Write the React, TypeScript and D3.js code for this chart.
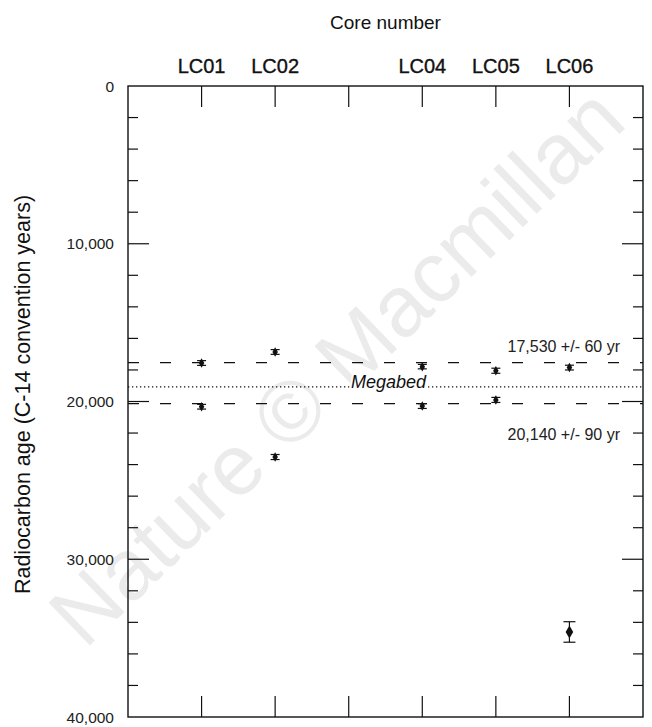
import React from 'react'
import * as d3 from 'd3'

// cores along the top, LC03 has no label
const coreNames = ['LC01', 'LC02', 'LC03', 'LC04', 'LC05', 'LC06']
const coreLabels = ['LC01', 'LC02', '', 'LC04', 'LC05', 'LC06']

// dated samples (C-14 age, 1 sigma)
const sampleCore = ['LC01', 'LC01', 'LC02', 'LC02', 'LC04', 'LC04', 'LC05', 'LC05', 'LC06', 'LC06']
const sampleAge = [17560, 20330, 16860, 23520, 17790, 20290, 18050, 19900, 17850, 34610]
const sampleErr = [150, 150, 150, 160, 140, 150, 160, 160, 150, 650]

// megabed bounds
const boundAges = [17530, 20140]
const boundLabels = ['17,530 +/- 60 yr', '20,140 +/- 90 yr']
const megabedAge = 19075

const yMajor = [0, 10000, 20000, 30000, 40000]

const W = 652
const H = 727
const font = '"Liberation Sans", Arial, sans-serif'

const App = () => {
	const x = d3.scalePoint<string>().domain(coreNames).range([128, 643]).padding(1)
	const y = d3.scaleLinear().domain([0, 40000]).range([86, 717])
	const [x0, x1] = x.range()
	const fmt = d3.format(',')

	const minor = d3.range(2000, 40000, 2000).filter(d => d % 10000 !== 0)
	const inner = yMajor.slice(1, -1)
	const diamond = d3.symbol().type(d3.symbolDiamond)

	return (
		<svg width={W} height={H} style={{ position: 'absolute', left: 0, top: 0, background: '#fff' }} fontFamily={font}>
			{/* watermark */}
			<text
				transform="translate(336,366) rotate(-44)"
				textAnchor="middle"
				dominantBaseline="central"
				fontSize={86}
				fill="#ebebeb"
			>
				Nature © Macmillan
			</text>

			<text x={(x0 + x1) / 2} y={29} textAnchor="middle" fontSize={19} fill="#111">
				Core number
			</text>
			{coreNames.map((c, i) => (
				<text key={c} x={x(c)} y={73} textAnchor="middle" fontSize={20} fill="#111" stroke="#111" strokeWidth={0.35}>
					{coreLabels[i]}
				</text>
			))}

			{/* frame */}
			<rect x={x0} y={y(0)} width={x1 - x0} height={y(40000) - y(0)} fill="none" stroke="#111" strokeWidth={1.4} />

			{/* x ticks top and bottom */}
			{coreNames.map(c => (
				<g key={c} stroke="#111" strokeWidth={1.2}>
					<line x1={x(c)} x2={x(c)} y1={y(0)} y2={y(0) + 21} />
					<line x1={x(c)} x2={x(c)} y1={y(40000)} y2={y(40000) - 21} />
				</g>
			))}

			{/* y ticks both sides */}
			{minor.map(d => (
				<g key={d} stroke="#111" strokeWidth={1.2}>
					<line x1={x0} x2={x0 + 10} y1={y(d)} y2={y(d)} />
					<line x1={x1} x2={x1 - 10} y1={y(d)} y2={y(d)} />
				</g>
			))}
			{inner.map(d => (
				<g key={d} stroke="#111" strokeWidth={1.2}>
					<line x1={x0} x2={x0 + 21} y1={y(d)} y2={y(d)} />
					<line x1={x1} x2={x1 - 21} y1={y(d)} y2={y(d)} />
				</g>
			))}
			{yMajor.map(d => (
				<text key={d} x={114} y={y(d)} textAnchor="end" dominantBaseline="central" fontSize={15.5} fill="#222">
					{fmt(d)}
				</text>
			))}

			<text
				transform={`translate(30,${(y(0) + y(40000)) / 2 - 7}) rotate(-90)`}
				textAnchor="middle"
				fontSize={21.5}
				fill="#111"
			>
				Radiocarbon age (C-14 convention years)
			</text>

			{/* megabed bounds */}
			{boundAges.map(a => (
				<line key={a} x1={x0} x2={x1} y1={y(a)} y2={y(a)} stroke="#111" strokeWidth={1.3} strokeDasharray="11,21" />
			))}
			<text x={620} y={y(boundAges[0]) - 11} textAnchor="end" fontSize={16} fill="#222">
				{boundLabels[0]}
			</text>
			<text x={620} y={y(boundAges[1]) + 36} textAnchor="end" fontSize={16} fill="#222">
				{boundLabels[1]}
			</text>

			<line x1={x0} x2={x1} y1={y(megabedAge)} y2={y(megabedAge)} stroke="#111" strokeWidth={1.3} strokeDasharray="1.3,2.7" />
			<text
				x={(x0 + x1) / 2 + 3}
				y={y(megabedAge) + 1}
				textAnchor="middle"
				fontSize={18}
				fontStyle="italic"
				fill="#111"
				stroke="#fff"
				strokeWidth={4}
				paintOrder="stroke"
			>
				Megabed
			</text>

			{/* samples */}
			{sampleAge.map((a, i) => {
				const cx = x(sampleCore[i])
				const big = sampleErr[i] > 400
				const cap = big ? 6 : 4.5
				return (
					<g key={i} stroke="#111" strokeWidth={1.2}>
						<line x1={cx} x2={cx} y1={y(a - sampleErr[i])} y2={y(a + sampleErr[i])} />
						<line x1={cx - cap} x2={cx + cap} y1={y(a - sampleErr[i])} y2={y(a - sampleErr[i])} />
						<line x1={cx - cap} x2={cx + cap} y1={y(a + sampleErr[i])} y2={y(a + sampleErr[i])} />
						<path
							transform={`translate(${cx},${y(a)})`}
							d={diamond.size(big ? 50 : 26)() || ''}
							fill="#111"
							stroke="none"
						/>
					</g>
				)
			})}
		</svg>
	)
}

export default App
